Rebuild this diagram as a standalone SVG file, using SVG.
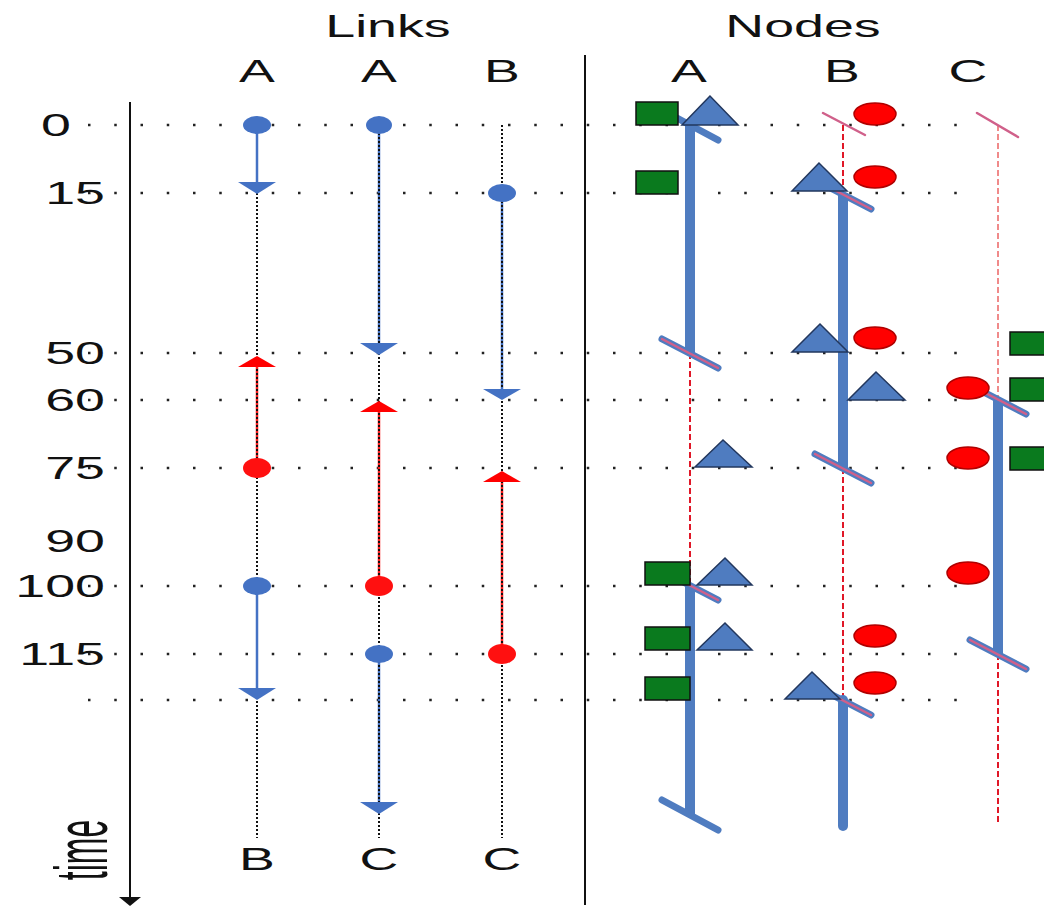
<svg xmlns="http://www.w3.org/2000/svg" width="1044" height="911" viewBox="0 0 1044 911">
  <style>
    .lbl { font-family: "Liberation Sans", Arial, sans-serif; font-size: 32px; fill: #111; }
    .row { stroke: #222; stroke-width: 2.5; stroke-dasharray: 2.5 23.75; fill: none; }
    .vdot { stroke: #111; stroke-width: 2; stroke-dasharray: 2 2; fill: none; }
    .lblue { stroke: #4472C4; stroke-width: 2.5; fill: none; }
    .lred { stroke: #FF2020; stroke-width: 2.5; fill: none; }
    .bdot { fill: #4472C4; }
    .rdot { fill: #FF1010; }
    .btri { fill: #4472C4; }
    .rtri { fill: #FF0000; }
    .active { stroke: #4F7CC0; stroke-width: 10; fill: none; }
    .idle { stroke: #E01828; stroke-width: 2; stroke-dasharray: 6 3; fill: none; }
    .idle-pale { stroke: #F08A8A; stroke-width: 2; stroke-dasharray: 6 3; fill: none; }
    .cut { stroke: #4F7CC0; stroke-width: 7; stroke-linecap: round; fill: none; }
    .cut-red { stroke: #D0608A; stroke-width: 2.5; stroke-linecap: round; fill: none; }
    .sq { fill: #0A7A1E; stroke: #111; stroke-width: 1.5; }
    .tri { fill: #4F7CC0; stroke: #22375E; stroke-width: 1.5; }
    .ell { fill: #FF0000; stroke: #B00000; stroke-width: 1.5; }
  </style>

  <!-- headings -->
  <g id="headings">
    <text class="lbl" text-anchor="middle" transform="translate(388,37) scale(1.68,1)">Links</text>
    <text class="lbl" text-anchor="middle" transform="translate(803,37) scale(1.68,1)">Nodes</text>
    <text class="lbl" text-anchor="middle" transform="translate(257,82) scale(1.68,1)">A</text>
    <text class="lbl" text-anchor="middle" transform="translate(379,82) scale(1.68,1)">A</text>
    <text class="lbl" text-anchor="middle" transform="translate(502,82) scale(1.68,1)">B</text>
    <text class="lbl" text-anchor="middle" transform="translate(689,82) scale(1.68,1)">A</text>
    <text class="lbl" text-anchor="middle" transform="translate(842,82) scale(1.68,1)">B</text>
    <text class="lbl" text-anchor="middle" transform="translate(968,82) scale(1.68,1)">C</text>
    <text class="lbl" text-anchor="middle" transform="translate(257,870) scale(1.68,1)">B</text>
    <text class="lbl" text-anchor="middle" transform="translate(379,870) scale(1.68,1)">C</text>
    <text class="lbl" text-anchor="middle" transform="translate(502,870) scale(1.68,1)">C</text>
  </g>

  <!-- time axis with tick labels -->
  <g id="time-axis">
    <line x1="130" y1="102" x2="130" y2="898" stroke="#111" stroke-width="2"/>
    <polygon points="119,897 141,897 130,906" fill="#111"/>
    <text class="lbl" text-anchor="middle" transform="translate(107,850) scale(2.3,1) rotate(-90)">time</text>
    <text class="lbl" text-anchor="middle" transform="translate(56,136) scale(1.68,1)">0</text>
    <text class="lbl" text-anchor="end" transform="translate(105,204) scale(1.68,1)">15</text>
    <text class="lbl" text-anchor="end" transform="translate(105,364) scale(1.68,1)">50</text>
    <text class="lbl" text-anchor="end" transform="translate(105,411) scale(1.68,1)">60</text>
    <text class="lbl" text-anchor="end" transform="translate(105,479) scale(1.68,1)">75</text>
    <text class="lbl" text-anchor="end" transform="translate(105,552) scale(1.68,1)">90</text>
    <text class="lbl" text-anchor="end" transform="translate(105,597) scale(1.68,1)">100</text>
    <text class="lbl" text-anchor="end" transform="translate(105,665) scale(1.68,1)">115</text>
  </g>

  <!-- section divider -->
  <line id="divider" x1="585" y1="55" x2="585" y2="905" stroke="#111" stroke-width="2"/>

  <!-- dotted time rows -->
  <g id="rows">
    <line class="row" x1="88" y1="125" x2="960" y2="125"/>
    <line class="row" x1="88" y1="193" x2="960" y2="193"/>
    <line class="row" x1="88" y1="353" x2="960" y2="353"/>
    <line class="row" x1="88" y1="400" x2="960" y2="400"/>
    <line class="row" x1="88" y1="468" x2="960" y2="468"/>
    <line class="row" x1="88" y1="586" x2="960" y2="586"/>
    <line class="row" x1="88" y1="654" x2="960" y2="654"/>
    <line class="row" x1="88" y1="700" x2="960" y2="700"/>
  </g>

  <!-- link timelines -->
  <g id="connectors">
    <!-- coloured spans underneath the dotted tracks -->
    <line class="lred" x1="257" y1="367" x2="257" y2="468"/>
    <line class="lblue" x1="379" y1="125" x2="379" y2="344"/>
    <line class="lred" x1="379" y1="412" x2="379" y2="586"/>
    <line class="lblue" x1="379" y1="654" x2="379" y2="804"/>
    <line class="lblue" x1="502" y1="193" x2="502" y2="391"/>
    <line class="lred" x1="502" y1="482" x2="502" y2="654"/>
    <!-- dotted tracks -->
    <line class="vdot" x1="257" y1="125" x2="257" y2="838"/>
    <line class="vdot" x1="379" y1="125" x2="379" y2="838"/>
    <line class="vdot" x1="502" y1="125" x2="502" y2="838"/>
    <!-- solid spans on top -->
    <line class="lblue" x1="257" y1="125" x2="257" y2="184"/>
    <line class="lblue" x1="257" y1="586" x2="257" y2="690"/>
  </g>

  <g id="link-AB">
    <ellipse class="bdot" cx="257" cy="125" rx="14" ry="9"/>
    <polygon class="btri" points="238,182 276,182 257,194"/>
    <polygon class="rtri" points="238,367 276,367 257,356"/>
    <ellipse class="rdot" cx="257" cy="468" rx="14" ry="10"/>
    <ellipse class="bdot" cx="257" cy="586" rx="14" ry="9"/>
    <polygon class="btri" points="238,688 276,688 257,700"/>
  </g>

  <g id="link-AC">
    <ellipse class="bdot" cx="379" cy="125" rx="13" ry="9"/>
    <polygon class="btri" points="360,343 398,343 379,355"/>
    <polygon class="rtri" points="360,412 398,412 379,401"/>
    <ellipse class="rdot" cx="379" cy="586" rx="14" ry="10"/>
    <ellipse class="bdot" cx="379" cy="654" rx="14" ry="9"/>
    <polygon class="btri" points="360,802 398,802 379,814"/>
  </g>

  <g id="link-BC">
    <ellipse class="bdot" cx="502" cy="193" rx="14" ry="9"/>
    <polygon class="btri" points="483,389 521,389 502,400"/>
    <polygon class="rtri" points="483,482 521,482 502,471"/>
    <ellipse class="rdot" cx="502" cy="654" rx="14" ry="10"/>
  </g>

  <!-- node A -->
  <g id="node-A">
    <line class="active" x1="690" y1="125" x2="690" y2="353"/>
    <line class="idle" x1="690" y1="353" x2="690" y2="586"/>
    <line class="active" x1="690" y1="586" x2="690" y2="815"/>
    <line class="cut" x1="662" y1="110" x2="718" y2="140"/>
    <line class="cut" x1="662" y1="339" x2="718" y2="368"/>
    <line class="cut-red" x1="662" y1="339" x2="718" y2="368"/>
    <line class="cut" x1="662" y1="571" x2="718" y2="600"/>
    <line class="cut-red" x1="662" y1="571" x2="718" y2="600"/>
    <line class="cut" x1="662" y1="800" x2="718" y2="830"/>
    <rect class="sq" x="636" y="102" width="42" height="23"/>
    <polygon class="tri" points="710,96 682,125 738,125"/>
    <rect class="sq" x="636" y="171" width="42" height="23"/>
    <polygon class="tri" points="723,440 695,467 752,467"/>
    <rect class="sq" x="645" y="562" width="45" height="23"/>
    <polygon class="tri" points="725,558 697,585 752,585"/>
    <rect class="sq" x="645" y="627" width="45" height="23"/>
    <polygon class="tri" points="725,623 697,650 752,650"/>
    <rect class="sq" x="645" y="677" width="45" height="23"/>
  </g>

  <!-- node B -->
  <g id="node-B">
    <line class="idle" x1="843" y1="125" x2="843" y2="193"/>
    <line class="active" x1="843" y1="193" x2="843" y2="468"/>
    <line class="idle" x1="843" y1="468" x2="843" y2="700"/>
    <line class="active" x1="843" y1="700" x2="843" y2="826" stroke-linecap="round"/>
    <line class="cut-red" x1="823" y1="113" x2="865" y2="135"/>
    <line class="cut" x1="815" y1="180" x2="871" y2="209"/>
    <line class="cut-red" x1="815" y1="180" x2="871" y2="209"/>
    <line class="cut" x1="815" y1="454" x2="871" y2="483"/>
    <line class="cut-red" x1="815" y1="454" x2="871" y2="483"/>
    <line class="cut" x1="815" y1="686" x2="871" y2="715"/>
    <line class="cut-red" x1="815" y1="686" x2="871" y2="715"/>
    <ellipse class="ell" cx="875" cy="114" rx="21" ry="11"/>
    <polygon class="tri" points="819,163 792,191 847,191"/>
    <ellipse class="ell" cx="875" cy="177" rx="21" ry="11"/>
    <polygon class="tri" points="820,324 792,352 848,352"/>
    <ellipse class="ell" cx="875" cy="338" rx="21" ry="11"/>
    <polygon class="tri" points="876,372 848,400 905,400"/>
    <ellipse class="ell" cx="875" cy="636" rx="21" ry="11"/>
    <polygon class="tri" points="812,672 785,699 840,699"/>
    <ellipse class="ell" cx="875" cy="683" rx="21" ry="11"/>
  </g>

  <!-- node C -->
  <g id="node-C">
    <line class="idle-pale" x1="998" y1="125" x2="998" y2="400"/>
    <line class="active" x1="998" y1="400" x2="998" y2="654"/>
    <line class="idle" x1="998" y1="654" x2="998" y2="825"/>
    <line class="cut-red" x1="977" y1="113" x2="1018" y2="137"/>
    <line class="cut" x1="970" y1="385" x2="1026" y2="414"/>
    <line class="cut-red" x1="970" y1="385" x2="1026" y2="414"/>
    <line class="cut" x1="970" y1="640" x2="1026" y2="669"/>
    <line class="cut-red" x1="970" y1="640" x2="1026" y2="669"/>
    <ellipse class="ell" cx="968" cy="388" rx="21" ry="11"/>
    <ellipse class="ell" cx="968" cy="458" rx="21" ry="11"/>
    <ellipse class="ell" cx="968" cy="573" rx="21" ry="11"/>
    <rect class="sq" x="1010" y="332" width="40" height="23"/>
    <rect class="sq" x="1010" y="378" width="40" height="23"/>
    <rect class="sq" x="1010" y="447" width="40" height="23"/>
  </g>
</svg>
